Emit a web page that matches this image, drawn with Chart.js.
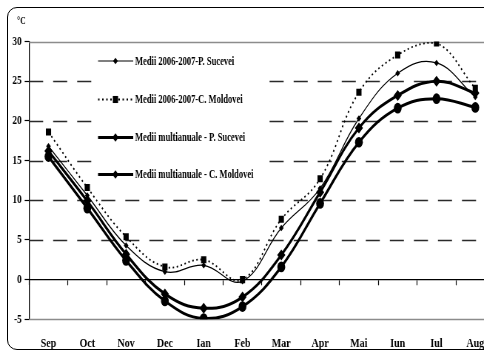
<!DOCTYPE html>
<html>
<head>
<meta charset="utf-8">
<script src="https://cdn.jsdelivr.net/npm/chart.js@4"></script>
<style>
  html, body { margin: 0; padding: 0; background: #fff; overflow: hidden; width: 484px; height: 351px; }
  #wrap { position: absolute; left: 0; top: 0; width: 680px; height: 351px; transform: scaleX(0.74); transform-origin: 0 0; }
  #frame { position: absolute; left: 7px; top: 7px; width: 600px; height: 341px; border: 1px solid #000; border-radius: 10px; pointer-events: none; }
</style>
</head>
<body>
<div id="wrap"><canvas id="c" width="680" height="351"></canvas></div>
<div id="frame"></div>
<script>
// Monthly mean air temperature (°C)
const months = ['Sep', 'Oct', 'Nov', 'Dec', 'Ian', 'Feb', 'Mar', 'Apr', 'Mai', 'Iun', 'Iul', 'Aug'];
const sucevei0607 = [16.8, 10.6, 4.3, 1.0, 1.8, -0.2, 6.5, 11.5, 20.3, 26.0, 27.3, 23.0];
const moldovei0607 = [18.6, 11.6, 5.4, 1.6, 2.5, 0.0, 7.6, 12.7, 23.6, 28.3, 29.8, 24.1];
const suceveiMulti = [16.2, 9.9, 3.2, -1.8, -3.6, -2.2, 3.1, 11.0, 19.1, 23.2, 25.0, 23.5];
const moldoveiMulti = [15.5, 9.0, 2.4, -2.7, -4.9, -3.4, 1.6, 9.6, 17.3, 21.6, 22.8, 21.7];
const seriesNames = [
  'Medii 2006-2007-P. Sucevei',
  'Medii 2006-2007-C. Moldovei',
  'Medii multianuale - P. Sucevei',
  'Medii multianuale - C. Moldovei'
];
const yTicks = [-5, 0, 5, 10, 15, 20, 25, 30];

const SERIF = "'Liberation Serif', 'Times New Roman', serif";

function marker(ctx, style, x, y, r) {
  ctx.beginPath();
  if (style === 'rect') {
    const s = r * Math.SQRT1_2;
    ctx.rect(x - s, y - s, 2 * s, 2 * s);
  } else if (style === 'circle') {
    ctx.arc(x, y, r, 0, Math.PI * 2);
  } else {
    ctx.moveTo(x, y - r); ctx.lineTo(x + r, y); ctx.lineTo(x, y + r); ctx.lineTo(x - r, y); ctx.closePath();
  }
  ctx.fill();
}

// Horizontal reference lines: dashed inside, solid grey at the limits
const gridLines = {
  id: 'gridLines',
  beforeDatasetsDraw(chart) {
    const { ctx, chartArea: a, scales: { y } } = chart;
    ctx.save();
    yTicks.forEach(v => {
      if (v === 0) return;
      const py = Math.round(y.getPixelForValue(v)) + 0.5;
      ctx.beginPath();
      if (v === 30 || v === -5) {
        ctx.setLineDash([]);
        ctx.strokeStyle = '#8c8c8c';
        ctx.lineWidth = 1.5;
      } else {
        ctx.setLineDash([19, 13.5]);
        ctx.strokeStyle = '#2a2a2a';
        ctx.lineWidth = 1.4;
      }
      ctx.moveTo(a.left, py);
      ctx.lineTo(a.right, py);
      ctx.stroke();
    });
    ctx.restore();
  }
};

// Legend box inside the plot, plus the unit label
const legendBox = {
  id: 'legendBox',
  afterDatasetsDraw(chart) {
    const { ctx } = chart;
    ctx.save();
    ctx.fillStyle = '#fff';
    ctx.fillRect(131, 46, 228, 143);
    const items = [
      { w: 1.2, dash: [], pt: 'rectRot', r: 3.2 },
      { w: 1.8, dash: [2, 3.5], pt: 'rect', r: 5 },
      { w: 3, dash: [], pt: 'rectRot', r: 4.2 },
      { w: 3, dash: [], pt: 'rectRot', r: 4.2 }
    ];
    const ys = [61, 99.5, 137.5, 174.5];
    items.forEach((it, i) => {
      const y = ys[i];
      ctx.strokeStyle = '#000';
      ctx.fillStyle = '#000';
      ctx.lineWidth = it.w;
      ctx.setLineDash(it.dash);
      ctx.beginPath();
      ctx.moveTo(132.5, y);
      ctx.lineTo(180, y);
      ctx.stroke();
      ctx.setLineDash([]);
      marker(ctx, it.pt, 156, y, it.r);
      ctx.save();
      ctx.translate(182.5, y + 0.5);
      ctx.scale(0.92, 1);
      ctx.font = 'bold 12.5px ' + SERIF;
      ctx.textAlign = 'left';
      ctx.textBaseline = 'middle';
      ctx.fillText(chart.data.datasets[i].label, 0, 0);
      ctx.restore();
    });
    ctx.font = 'bold 10.5px ' + SERIF;
    ctx.fillStyle = '#000';
    ctx.textAlign = 'left';
    ctx.textBaseline = 'middle';
    ctx.fillText('°C', 23, 21.5);
    ctx.restore();
  }
};

const common = { pointBorderWidth: 0, pointBackgroundColor: '#000', borderColor: '#000', tension: 0.4, fill: false };

new Chart(document.getElementById('c'), {
  type: 'line',
  data: {
    labels: months,
    datasets: [
      Object.assign({ label: seriesNames[0], data: sucevei0607, borderWidth: 1.2, pointStyle: 'rectRot', pointRadius: 3.2 }, common),
      Object.assign({ label: seriesNames[1], data: moldovei0607, borderWidth: 1.8, borderDash: [2, 3.5], pointStyle: 'rect', pointRadius: 5 }, common),
      Object.assign({ label: seriesNames[2], data: suceveiMulti, borderWidth: 3, pointStyle: 'rectRot', pointRadius: 5.5 }, common),
      Object.assign({ label: seriesNames[3], data: moldoveiMulti, borderWidth: 3, pointStyle: 'circle', pointRadius: 5.3 }, common)
    ]
  },
  options: {
    responsive: false,
    animation: false,
    devicePixelRatio: 1,
    layout: { padding: { top: 41.5, right: 11.5, left: 0, bottom: 0 } },
    plugins: { legend: { display: false }, tooltip: { enabled: false } },
    scales: {
      x: {
        type: 'category',
        position: 'bottom',
        offset: true,
        grid: { display: false, drawTicks: false },
        border: { display: false },
        ticks: { color: '#000', font: { family: SERIF, weight: 'bold', size: 13.5 }, padding: 16, maxRotation: 0, autoSkip: false },
        afterFit(s) { s.height = 31.7; }
      },
      x0: {
        type: 'category',
        axis: 'x',
        position: { y: 0 },
        offset: true,
        grid: { offset: true, drawOnChartArea: false, drawTicks: true, tickLength: 5, tickColor: '#000', tickWidth: 1.2 },
        border: { display: true, color: '#000', width: 1.3 },
        ticks: { display: false }
      },
      y: {
        min: -5,
        max: 30,
        afterBuildTicks(s) { s.ticks = yTicks.map(v => ({ value: v })); },
        grid: { drawOnChartArea: false, drawTicks: true, tickLength: 6, tickColor: '#000', tickWidth: 1.2 },
        border: { display: true, color: '#000', width: 1.3 },
        ticks: { color: '#000', font: { family: SERIF, weight: 'bold', size: 12.5 }, padding: 4 },
        afterFit(s) { s.width = 39.3; }
      }
    }
  },
  plugins: [gridLines, legendBox]
});
</script>
</body>
</html>
